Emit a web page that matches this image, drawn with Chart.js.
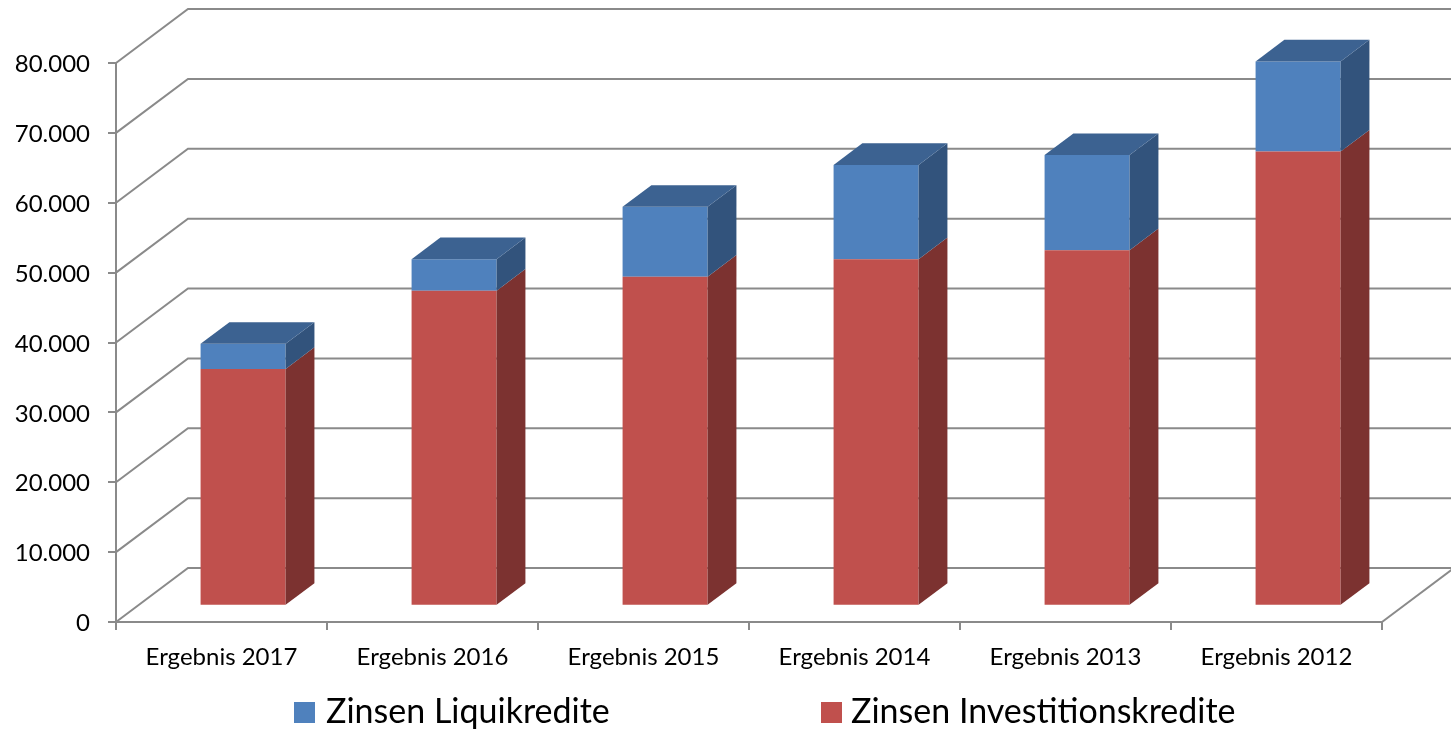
<!DOCTYPE html>
<html>
<head>
<meta charset="utf-8">
<script src="https://cdn.jsdelivr.net/npm/chart.js@4.4.1/dist/chart.umd.min.js"></script>
<style>
  html, body { margin: 0; padding: 0; background: #ffffff; }
  canvas { display: block; }
</style>
</head>
<body>
<canvas id="zinsChart" width="1451" height="729"></canvas>
<script>
// Werte
const categories = ['Ergebnis 2017', 'Ergebnis 2016', 'Ergebnis 2015', 'Ergebnis 2014', 'Ergebnis 2013', 'Ergebnis 2012'];
const zinsenInvestitionskredite = [33900, 45100, 47100, 49600, 50900, 65000];
const zinsenLiquikredite = [3600, 4500, 10000, 13500, 13600, 12900];
const yMax = 80000;
const yStep = 10000;

const GRID = '#8a8a8a';
const FONT = 'Lato, "Open Sans", sans-serif';

// 3D-Tiefe: Wandversatz und Lage der Säulen in der Tiefe
const WALL_DX = 72, WALL_DY = 54;
const BAR_FRONT = 0.3, BAR_DEPTH = 0.4;

function fmtDe(v) {
    return String(v).replace(/\B(?=(\d{3})+(?!\d))/g, '.');
}

const depth3d = {
    id: 'depth3d',
    beforeDatasetsDraw(chart) {
        const { ctx, chartArea: a, scales: { y } } = chart;
        ctx.save();
        ctx.strokeStyle = GRID;
        ctx.lineWidth = 2;
        // Seitenwand + Rückwand-Gitterlinien
        y.ticks.forEach(t => {
            const py = y.getPixelForValue(t.value);
            ctx.beginPath();
            ctx.moveTo(a.left, py);
            ctx.lineTo(a.left + WALL_DX, py - WALL_DY);
            ctx.lineTo(a.right + WALL_DX, py - WALL_DY);
            ctx.stroke();
        });
        // rechte Bodenkante
        const p0 = y.getPixelForValue(0);
        ctx.beginPath();
        ctx.moveTo(a.right, p0);
        ctx.lineTo(a.right + WALL_DX, p0 - WALL_DY);
        ctx.stroke();
        ctx.restore();

        // Säulen sitzen etwas hinter der Vorderkante
        ctx.save();
        ctx.translate(WALL_DX * BAR_FRONT, -WALL_DY * BAR_FRONT);
    },
    afterDatasetsDraw(chart) {
        const ctx = chart.ctx;
        const bdx = WALL_DX * BAR_DEPTH, bdy = WALL_DY * BAR_DEPTH;
        const last = chart.data.datasets.length - 1;
        chart.data.datasets.forEach((ds, i) => {
            chart.getDatasetMeta(i).data.forEach(bar => {
                const { x, y, base, width } = bar.getProps(['x', 'y', 'base', 'width'], true);
                const l = x - width / 2, r = x + width / 2;
                ctx.fillStyle = ds.sideColor;
                ctx.beginPath();
                ctx.moveTo(r, y);
                ctx.lineTo(r + bdx, y - bdy);
                ctx.lineTo(r + bdx, base - bdy);
                ctx.lineTo(r, base);
                ctx.closePath();
                ctx.fill();
                if (i === last) {
                    ctx.fillStyle = ds.topColor;
                    ctx.beginPath();
                    ctx.moveTo(l, y);
                    ctx.lineTo(l + bdx, y - bdy);
                    ctx.lineTo(r + bdx, y - bdy);
                    ctx.lineTo(r, y);
                    ctx.closePath();
                    ctx.fill();
                }
            });
        });
        ctx.restore();
    },
    afterDraw(chart) {
        // Legende unten, Reihenfolge wie im Original
        const ctx = chart.ctx;
        const items = [
            { ds: chart.data.datasets[1], box: 294, text: 326 },
            { ds: chart.data.datasets[0], box: 821, text: 851 }
        ];
        ctx.save();
        ctx.font = '34px ' + FONT;
        ctx.textBaseline = 'alphabetic';
        items.forEach(it => {
            ctx.fillStyle = it.ds.backgroundColor;
            ctx.fillRect(it.box, 702, 21, 21);
            ctx.fillStyle = '#000000';
            ctx.fillText(it.ds.label, it.text, 723);
        });
        ctx.restore();
    }
};

new Chart(document.getElementById('zinsChart'), {
    type: 'bar',
    data: {
        labels: categories,
        datasets: [{
            label: 'Zinsen Investitionskredite',
            data: zinsenInvestitionskredite,
            backgroundColor: '#C0504D',
            sideColor: '#7C3230',
            topColor: '#9A3F3D',
            categoryPercentage: 1,
            barPercentage: 0.403,
            clip: false
        }, {
            label: 'Zinsen Liquikredite',
            data: zinsenLiquikredite,
            backgroundColor: '#4F81BD',
            sideColor: '#32537C',
            topColor: '#3C6291',
            categoryPercentage: 1,
            barPercentage: 0.403,
            clip: false
        }]
    },
    options: {
        responsive: false,
        animation: false,
        devicePixelRatio: 1,
        layout: { padding: { top: 63, left: 0, right: 69, bottom: 0 } },
        plugins: { legend: { display: false }, tooltip: { enabled: false } },
        scales: {
            x: {
                stacked: true,
                afterFit(scale) { scale.height = 107; },
                border: { display: true, color: GRID, width: 2 },
                grid: { offset: true, drawOnChartArea: false, drawTicks: true, tickLength: 8, color: GRID, lineWidth: 2 },
                ticks: { color: '#000000', padding: 13, font: { family: FONT, size: 24 } }
            },
            y: {
                stacked: true,
                min: 0,
                max: yMax,
                afterFit(scale) { scale.width = 116; },
                border: { display: true, color: GRID, width: 2 },
                grid: { drawOnChartArea: false, drawTicks: true, tickLength: 8, color: GRID, lineWidth: 2 },
                ticks: {
                    stepSize: yStep,
                    color: '#000000',
                    padding: 18,
                    labelOffset: 1.5,
                    font: { family: FONT, size: 24 },
                    callback: v => fmtDe(v)
                }
            }
        }
    },
    plugins: [depth3d]
});
</script>
</body>
</html>
